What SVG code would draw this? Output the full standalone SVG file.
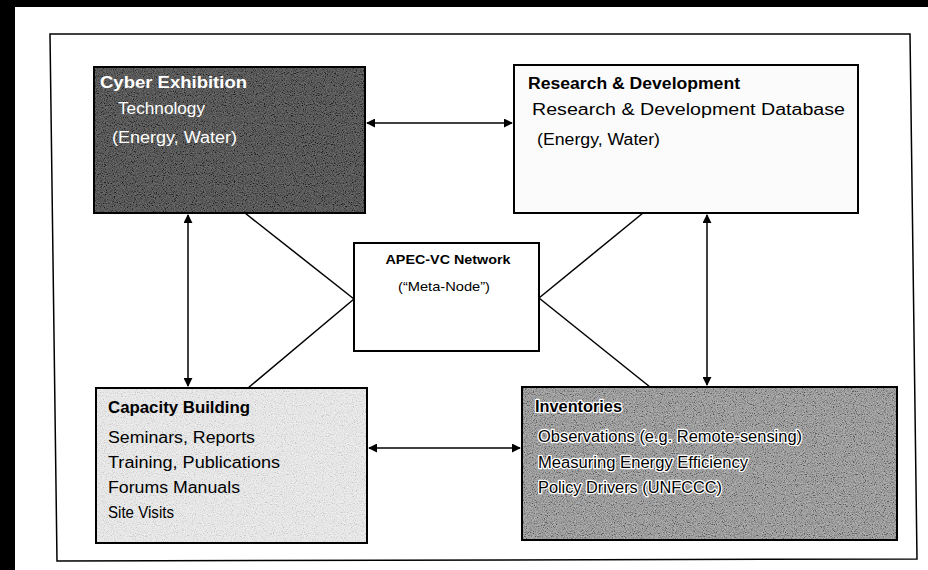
<svg xmlns="http://www.w3.org/2000/svg" width="928" height="570" viewBox="0 0 928 570">
<style>
  .box { stroke: #000; stroke-width: 2; }
  .t { font-family: "Liberation Sans", Arial, sans-serif; font-size: 16px; fill: #000; }
  .h { font-weight: bold; }
  .w { fill: #fff; }
  .halo { stroke: #fff; stroke-width: 2.5; paint-order: stroke; stroke-linejoin: round; }
  .c { font-size: 13px; }
  .ln { stroke: #000; stroke-width: 1.5; fill: none; }
  .arr { marker-start: url(#ah); marker-end: url(#ah); }
</style>
<defs>
  <marker id="ah" viewBox="0 0 10 10" refX="9" refY="5" markerWidth="9" markerHeight="9" markerUnits="userSpaceOnUse" orient="auto-start-reverse">
    <path d="M0,0 L10,5 L0,10 z" fill="#000"/>
  </marker>
  <filter id="grain" x="0" y="0" width="100%" height="100%">
    <feTurbulence type="fractalNoise" baseFrequency="0.9" numOctaves="2" seed="7" result="n"/>
    <feColorMatrix in="n" type="matrix" values="2.2 0 0 0 -0.6  2.2 0 0 0 -0.6  2.2 0 0 0 -0.6  0 0 0 0 1" result="g"/>
    <feComposite in="g" in2="SourceGraphic" operator="in"/>
  </filter>
</defs>

<!-- scan borders -->
<rect x="0" y="0" width="928" height="7" fill="#000"/>
<rect x="0" y="0" width="15" height="570" fill="#000"/>

<!-- outer frame -->
<path d="M50,34 L910,34 L917,559 L57,561 Z" fill="none" stroke="#000" stroke-width="1.5"/>

<g id="connectors">
  <line class="ln arr" x1="367" y1="123" x2="512" y2="123"/>
  <line class="ln arr" x1="188" y1="215" x2="188" y2="386"/>
  <line class="ln arr" x1="707" y1="215" x2="707" y2="385"/>
  <line class="ln arr" x1="369" y1="448" x2="520" y2="448"/>
  <line class="ln" x1="245" y1="213" x2="354" y2="299"/>
  <line class="ln" x1="354" y1="299" x2="248" y2="388"/>
  <line class="ln" x1="539" y1="298" x2="643" y2="213"/>
  <line class="ln" x1="539" y1="298" x2="650" y2="387"/>
</g>

<g id="cyber">
  <rect class="box" x="94" y="67" width="271" height="146" fill="#2e2e2e"/>
  <rect x="95" y="68" width="269" height="144" fill="#fff" filter="url(#grain)" opacity="0.3"/>
  <text class="t h w" x="100" y="88" textLength="147" lengthAdjust="spacingAndGlyphs">Cyber Exhibition</text>
  <text class="t w" x="118" y="114" textLength="87" lengthAdjust="spacingAndGlyphs">Technology</text>
  <text class="t w" x="112" y="143" textLength="125" lengthAdjust="spacingAndGlyphs">(Energy, Water)</text>
</g>

<g id="rnd">
  <rect class="box" x="514" y="65" width="344" height="148" fill="#fbfbfb"/>
  <text class="t h" x="528" y="89" font-size="17" textLength="212" lengthAdjust="spacingAndGlyphs">Research &amp; Development</text>
  <text class="t" x="532" y="115" font-size="17" textLength="313" lengthAdjust="spacingAndGlyphs">Research &amp; Development Database</text>
  <text class="t" x="537" y="145" textLength="123" lengthAdjust="spacingAndGlyphs">(Energy, Water)</text>
</g>

<g id="apec">
  <rect class="box" x="354" y="243" width="185" height="108" fill="#fff"/>
  <text class="t h c" x="448" y="264" text-anchor="middle" textLength="125" lengthAdjust="spacingAndGlyphs">APEC-VC Network</text>
  <text class="t c" x="444" y="291" text-anchor="middle" textLength="92" lengthAdjust="spacingAndGlyphs">(“Meta-Node”)</text>
</g>

<g id="capacity">
  <rect class="box" x="96" y="388" width="271" height="155" fill="#eeeeee"/>
  <rect x="97" y="389" width="269" height="153" fill="#fff" filter="url(#grain)" opacity="0.15"/>
  <text class="t h" x="108" y="413" textLength="142" lengthAdjust="spacingAndGlyphs">Capacity Building</text>
  <text class="t" x="108" y="443" textLength="147" lengthAdjust="spacingAndGlyphs">Seminars,  Reports</text>
  <text class="t" x="108" y="468" textLength="172" lengthAdjust="spacingAndGlyphs">Training,  Publications</text>
  <text class="t" x="108" y="493" textLength="132" lengthAdjust="spacingAndGlyphs">Forums   Manuals</text>
  <text class="t" x="108" y="518" textLength="66" lengthAdjust="spacingAndGlyphs">Site Visits</text>
</g>

<g id="inventories">
  <rect class="box" x="522" y="387" width="375" height="153" fill="#8c8c8c"/>
  <rect x="523" y="388" width="373" height="151" fill="#fff" filter="url(#grain)" opacity="0.35"/>
  <text class="t h halo" x="535" y="412" textLength="87" lengthAdjust="spacingAndGlyphs">Inventories</text>
  <text class="t halo" x="538" y="442" textLength="264" lengthAdjust="spacingAndGlyphs">Observations (e.g. Remote-sensing)</text>
  <text class="t halo" x="538" y="468" textLength="210" lengthAdjust="spacingAndGlyphs">Measuring Energy Efficiency</text>
  <text class="t halo" x="538" y="493" textLength="184" lengthAdjust="spacingAndGlyphs">Policy Drivers (UNFCCC)</text>
</g>
</svg>
